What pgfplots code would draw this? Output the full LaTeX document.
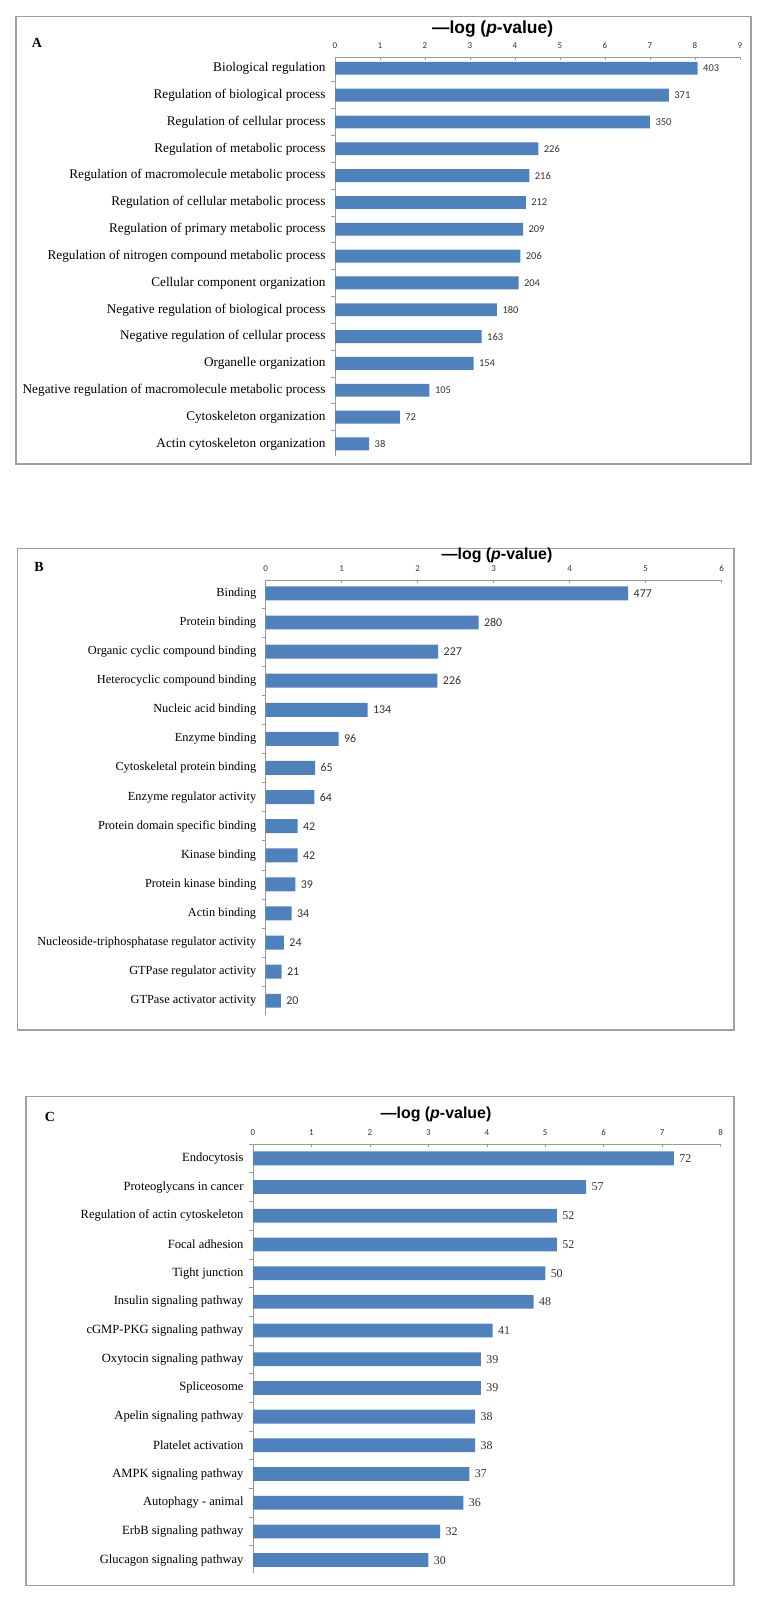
\documentclass[border=0pt]{standalone}
\usepackage{pgfplots}
\usepackage{pgfplotstable}
\pgfplotsset{compat=1.18}
\usepackage{fontspec}
\setmainfont{Liberation Serif}
\newfontfamily\carlito{Carlito}
\newfontfamily\arial{Liberation Sans}

\definecolor{barblue}{HTML}{4F81BD}
\definecolor{axgray}{HTML}{9A9A9A}
\definecolor{boxgray}{HTML}{A0A0A0}
\definecolor{valtxt}{HTML}{333333}

% bar lengths, n = number printed at the bar end
\pgfplotstableread{
y x n
0 8.06 403
1 7.42 371
2 7.00 350
3 4.52 226
4 4.32 216
5 4.24 212
6 4.18 209
7 4.12 206
8 4.08 204
9 3.60 180
10 3.26 163
11 3.08 154
12 2.10 105
13 1.44 72
14 0.76 38
}\dataA

\pgfplotstableread{
y x n
0 4.77 477
1 2.80 280
2 2.27 227
3 2.26 226
4 1.34 134
5 0.96 96
6 0.65 65
7 0.64 64
8 0.42 42
9 0.42 42
10 0.39 39
11 0.34 34
12 0.24 24
13 0.21 21
14 0.20 20
}\dataB

\pgfplotstableread{
y x n
0 7.20 72
1 5.70 57
2 5.20 52
3 5.20 52
4 5.00 50
5 4.80 48
6 4.10 41
7 3.90 39
8 3.90 39
9 3.80 38
10 3.80 38
11 3.70 37
12 3.60 36
13 3.20 32
14 3.00 30
}\dataC

\pgfplotsset{
  panel/.style={
    scale only axis,
    xbar,
    enlargelimits=false,
    axis x line*=top,
    axis y line*=left,
    y dir=reverse,
    xmin=0,
    ytick={0,...,14},
    minor ytick={-0.5,0.5,...,14.5},
    bar width=0.48,
    axis line style={draw=axgray,line width=0.8bp},
    tick align=inside,
    major tick length=3bp,
    minor tick length=4bp,
    ytick style={draw=none},
    minor y tick style={draw=axgray,line width=0.6bp,xshift=-4bp},
    xtick style={draw=axgray,line width=0.6bp},
    /pgf/number format/assume math mode=true,
    xticklabel style={font=\carlito\fontsize{9}{9}\selectfont,text=valtxt,yshift=5bp},
    yticklabel style={xshift=-6bp,text=black},
    nodes near coords,
    every node near coord/.append style={text=valtxt,anchor=west,xshift=2bp},
  },
  bars/.style={draw=none,fill=barblue,point meta=explicit symbolic},
}

\begin{document}
\begin{tikzpicture}
\useasboundingbox (0,0) rectangle (769bp,-1604bp);

% frames
\draw[boxgray,line width=1.2bp] (16bp,-16.7bp) rectangle (751bp,-464bp);
\draw[boxgray,line width=1.2bp] (17.5bp,-548.3bp) rectangle (734bp,-1030bp);
\draw[boxgray,line width=1.2bp] (26bp,-1096.5bp) rectangle (734bp,-1585.7bp);

% panel letters and titles
\node[font=\bfseries\fontsize{14}{14}\selectfont] at (37bp,-43bp) {A};
\node[font=\bfseries\fontsize{14}{14}\selectfont] at (39bp,-567bp) {B};
\node[font=\bfseries\fontsize{14}{14}\selectfont] at (50bp,-1117bp) {C};
\node[font=\arial\bfseries\fontsize{17.5}{18}\selectfont] at (492.6bp,-29bp) {—log (\textit{p}-value)};
\node[font=\arial\bfseries\fontsize{16}{17}\selectfont] at (497bp,-555bp) {—log (\textit{p}-value)};
\node[font=\arial\bfseries\fontsize{16}{17}\selectfont] at (436bp,-1114bp) {—log (\textit{p}-value)};

% A
\begin{axis}[panel,
  at={(335bp,-57bp)}, anchor=north west,
  width=405bp, height=399bp,
  xmax=9, xtick={0,...,9},
  ymin=-0.42, ymax=14.45,
  yticklabel style={font=\fontsize{13.3}{14}\selectfont},
  every node near coord/.append style={font=\carlito\fontsize{10.5}{11}\selectfont},
  yticklabels={Biological regulation,Regulation of biological process,Regulation of cellular process,Regulation of metabolic process,Regulation of macromolecule metabolic process,Regulation of cellular metabolic process,Regulation of primary metabolic process,Regulation of nitrogen compound metabolic process,Cellular component organization,Negative regulation of biological process,Negative regulation of cellular process,Organelle organization,Negative regulation of macromolecule metabolic process,Cytoskeleton organization,Actin cytoskeleton organization},
  ]
\addplot[bars] table[x=x,y=y,meta=n] {\dataA};
\end{axis}

% B
\begin{axis}[panel,
  at={(265.7bp,-580bp)}, anchor=north west,
  width=456bp, height=435bp,
  xmax=6, xtick={0,...,6},
  ymin=-0.46, ymax=14.49,
  yticklabel style={font=\fontsize{12.4}{13}\selectfont},
  every node near coord/.append style={font=\carlito\fontsize{12}{12}\selectfont},
  yticklabels={Binding,Protein binding,Organic cyclic compound binding,Heterocyclic compound binding,Nucleic acid binding,Enzyme binding,Cytoskeletal protein binding,Enzyme regulator activity,Protein domain specific binding,Kinase binding,Protein kinase binding,Actin binding,Nucleoside-triphosphatase regulator activity,GTPase regulator activity,GTPase activator activity},
  ]
\addplot[bars] table[x=x,y=y,meta=n] {\dataB};
\end{axis}

% C
\begin{axis}[panel,
  at={(253bp,-1144bp)}, anchor=north west,
  width=467.6bp, height=429bp,
  xmax=8, xtick={0,...,8},
  ymin=-0.5, ymax=14.45,
  yticklabel style={font=\fontsize{12.6}{13}\selectfont},
  every node near coord/.append style={font=\fontsize{12}{12}\selectfont},
  yticklabels={Endocytosis,Proteoglycans in cancer,Regulation of actin cytoskeleton,Focal adhesion,Tight junction,Insulin signaling pathway,cGMP-PKG signaling pathway,Oxytocin signaling pathway,Spliceosome,Apelin signaling pathway,Platelet activation,AMPK signaling pathway,Autophagy - animal,ErbB signaling pathway,Glucagon signaling pathway},
  ]
\addplot[bars] table[x=x,y=y,meta=n] {\dataC};
\end{axis}
\end{tikzpicture}
\end{document}
